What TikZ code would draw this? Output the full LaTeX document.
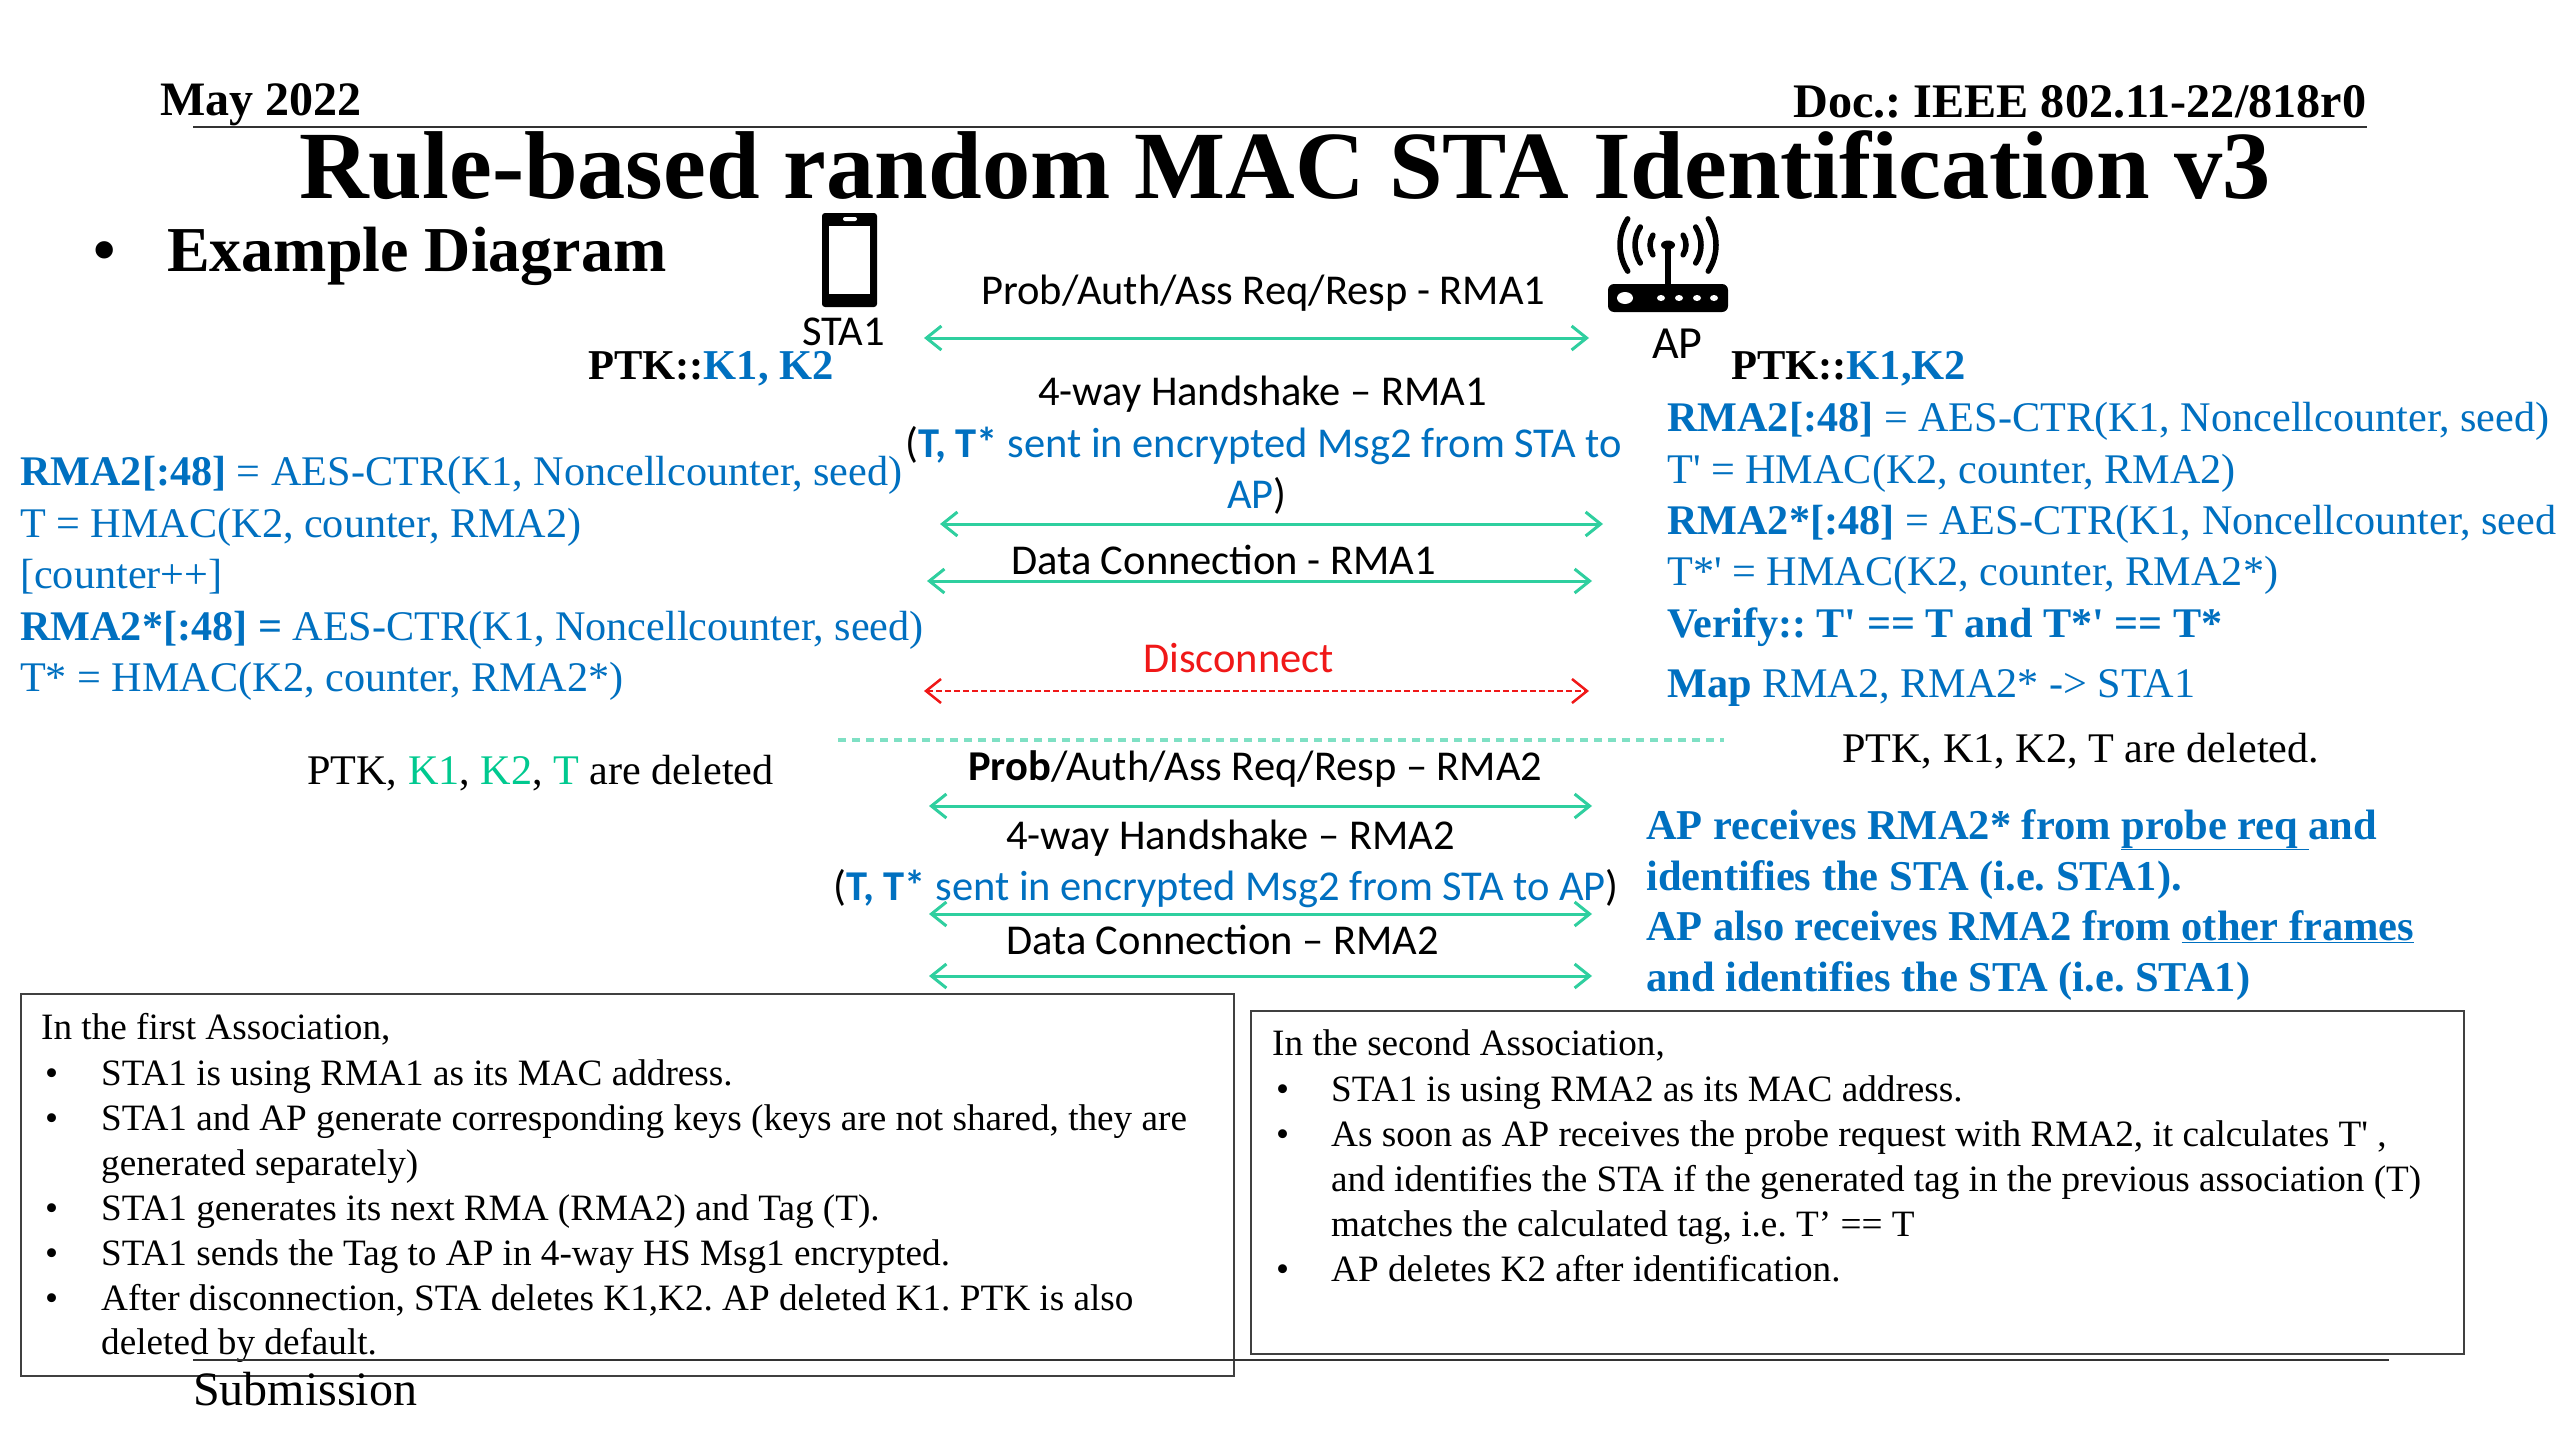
\documentclass[tikz,border=0pt]{standalone}
\usepackage{fontspec}
\setmainfont{Liberation Serif}
\newfontfamily\calb{Carlito}
\newfontfamily\plainser{Liberation Serif}
\usetikzlibrary{arrows.meta}
\definecolor{bl}{HTML}{0070C0}
\definecolor{gn}{HTML}{2FCF9F}
\definecolor{sg}{HTML}{7FE0C4}
\definecolor{tg}{HTML}{00C98F}
\definecolor{rd}{HTML}{F01818}
\newcommand{\fsz}[1]{\fontsize{#1}{#1}\selectfont}
\newcommand{\sq}{{\plainser\char39}}
\tikzset{
 lab/.style={inner sep=0pt,anchor=base west},
 mid/.style={lab,font=\calb\fsz{42.5}},
 ser/.style={lab,font=\fsz{42.2},text=bl},
 serb/.style={ser,font=\fsz{42.5}\bfseries},
 box/.style={lab,font=\fsz{37.2}},
 fr/.style={draw=black!75,line width=2.2pt},
 rule/.style={draw=black!80,line width=2.5pt},
 wave/.style={black,line width=5.5pt,line cap=round},
 msg/.style={draw=gn,line width=3pt,{Straight Barb[length=15pt,width=24pt]}-{Straight Barb[length=15pt,width=24pt]}},
}
\begin{document}
\frenchspacing
\begin{tikzpicture}[x=1pt,y=-1pt]
\useasboundingbox[fill=white] (0,0) rectangle (2560,1440);
% header
\node[lab,font=\fsz{48}\bfseries] (date) at (160,115) {May 2022};
\node[lab,font=\fsz{48.2}\bfseries] (doc) at (1793,117) {Doc.: IEEE 802.11-22/818r0};
\coordinate (r1l) at (193,127); \coordinate (r1r) at (2367,127);
\draw[rule] (r1l) -- (r1r);
\node[lab,font=\fsz{96.4}\bfseries] (title) at (299,198) {Rule-based random MAC STA Identification v3};
\node[lab,font=\fsz{64}\bfseries] (b0) at (93,271) {•};
\node[lab,font=\fsz{64}\bfseries] (ex) at (167,271) {Example Diagram};
% phone
\fill[black,rounded corners=3pt] (822,213) rectangle (877,307);
\fill[white] (829,226) rectangle (870,294);
\fill[white,rounded corners=2pt] (843,217) rectangle (857,221);
\node[mid] (sta) at (802,345) {STA1};
% router
\fill[black,rounded corners=6pt] (1608,284) rectangle (1728,312);
\fill[black] (1665,246) rectangle (1671,285);
\fill[black] (1668,245) ellipse (7 and 4.5);
\fill[white] (1625,298) ellipse (8 and 6);
\foreach \px in {1661,1679,1697,1714} \fill[white] (\px,298) ellipse (4 and 3);
\foreach \r in {18,33,48} {
 \draw[wave] (1668,245) ++(33:\r) arc[start angle=33,end angle=-33,radius=\r];
 \draw[wave] (1668,245) ++(147:\r) arc[start angle=147,end angle=213,radius=\r];
}
\node[mid,font=\calb\fsz{46}] (ap) at (1652,358) {AP};
% left keys
\node[serb,text=black] (lptk) at (588,379) {PTK::\textcolor{bl}{K1, K2}};
\node[ser] (l1) at (20,485) {\textbf{RMA2[:48]} = AES-CTR(K1, Noncellcounter, seed)};
\node[ser] (l2) at (20,537) {T = HMAC(K2, counter, RMA2)};
\node[ser] (l3) at (20,588) {[counter++]};
\node[ser] (l4) at (20,640) {\textbf{RMA2*[:48] =} AES-CTR(K1, Noncellcounter, seed)};
\node[ser] (l5) at (20,691) {T* = HMAC(K2, counter, RMA2*)};
\node[ser,text=black] (l6) at (307,784) {PTK, \textcolor{tg}{K1}, \textcolor{tg}{K2}, \textcolor{tg}{T} are deleted};
% right keys
\node[serb,text=black] (rptk) at (1731,379) {PTK::\textcolor{bl}{K1,K2}};
\node[ser] (r1) at (1667,431) {\textbf{RMA2[:48]} = AES-CTR(K1, Noncellcounter, seed)};
\node[ser] (r2) at (1667,483) {T\sq{} = HMAC(K2, counter, RMA2)};
\node[ser] (r3) at (1667,534) {\textbf{RMA2*[:48]} = AES-CTR(K1, Noncellcounter, seed};
\node[ser] (r4) at (1667,585) {T*\sq{} = HMAC(K2, counter, RMA2*)};
\node[ser] (r5) at (1667,637) {\textbf{Verify:: T\sq{} == T and T*\sq{} == T*}};
\node[ser] (r6) at (1667,697) {\textbf{Map} RMA2, RMA2* -> STA1};
\node[ser,text=black] (r7) at (1842,762) {PTK, K1, K2, T are deleted.};
\node[serb] (r8) at (1646,839) {AP receives RMA2* from \underline{probe req\ }and};
\node[serb] (r9) at (1646,890) {identifies the STA (i.e. STA1).};
\node[serb] (r10) at (1646,940) {AP also receives RMA2 from \underline{other frames}};
\node[serb] (r11) at (1646,991) {and identifies the STA (i.e. STA1)};
% sequence
\node[mid] (m1) at (981,304) {Prob/Auth/Ass Req/Resp - RMA1};
\coordinate (a1l) at (924,338); \coordinate (a1r) at (1589,338);
\draw[msg] (a1l) -- (a1r);
\node[mid] (m2) at (1038,405) {4-way Handshake – RMA1};
\node[mid] (m3) at (905,457) {(\textcolor{bl}{\textbf{T, T*} sent in encrypted Msg2 from STA to}};
\node[mid,anchor=base] (m4) at (1257,508) {\textcolor{bl}{AP})};
\coordinate (a2l) at (940,524); \coordinate (a2r) at (1603,524);
\draw[msg] (a2l) -- (a2r);
\node[mid] (m5) at (1011,574) {Data Connection - RMA1};
\coordinate (a3l) at (927,581); \coordinate (a3r) at (1592,581);
\draw[msg] (a3l) -- (a3r);
\node[mid,text=rd] (m6) at (1143,672) {Disconnect};
\coordinate (a4l) at (924,691); \coordinate (a4r) at (1589,691);
\draw[msg,draw=rd,line width=2.5pt,dash pattern=on 6pt off 3pt] (a4l) -- (a4r);
\coordinate (sepl) at (838,740); \coordinate (sepr) at (1724,740);
\draw[draw=sg,line width=3.5pt,dash pattern=on 8pt off 6pt] (sepl) -- (sepr);
\node[mid] (m7) at (968,780) {\textbf{Prob}/Auth/Ass Req/Resp – RMA2};
\coordinate (a5l) at (929,806); \coordinate (a5r) at (1592,806);
\draw[msg] (a5l) -- (a5r);
\node[mid] (m8) at (1006,849) {4-way Handshake – RMA2};
\node[mid] (m9) at (833,900) {(\textcolor{bl}{\textbf{T, T*} sent in encrypted Msg2 from STA to AP})};
\coordinate (a6l) at (929,914); \coordinate (a6r) at (1592,914);
\draw[msg] (a6l) -- (a6r);
\node[mid] (m10) at (1006,954) {Data Connection – RMA2};
\coordinate (a7l) at (929,976); \coordinate (a7r) at (1592,976);
\draw[msg] (a7l) -- (a7r);
% box 1
\draw[fr] (21,994) rectangle (1234,1376);
\node[box] (b1h) at (41,1039) {In the first Association,};
\foreach \n/\y in {1/1085,2/1130,3/1220,4/1265,5/1310} \node[box] (b1b\n) at (45,\y) {•};
\node[box] (b11) at (101,1085) {STA1 is using RMA1 as its MAC address.};
\node[box] (b12) at (101,1130) {STA1 and AP generate corresponding keys (keys are not shared, they are};
\node[box] (b13) at (101,1175) {generated separately)};
\node[box] (b14) at (101,1220) {STA1 generates its next RMA (RMA2) and Tag (T).};
\node[box] (b15) at (101,1265) {STA1 sends the Tag to AP in 4-way HS Msg1 encrypted.};
\node[box] (b16) at (101,1310) {After disconnection, STA deletes K1,K2. AP deleted K1. PTK is also};
\node[box] (b17) at (101,1354) {deleted by default.};
% box 2
\draw[fr] (1251,1011) rectangle (2464,1354);
\node[box] (b2h) at (1272,1055) {In the second Association,};
\foreach \n/\y in {1/1101,2/1146,3/1281} \node[box] (b2b\n) at (1276,\y) {•};
\node[box] (b21) at (1331,1101) {STA1 is using RMA2 as its MAC address.};
\node[box] (b22) at (1331,1146) {As soon as AP receives the probe request with RMA2, it calculates T\sq{} ,};
\node[box] (b23) at (1331,1191) {and identifies the STA if the generated tag in the previous association (T)};
\node[box] (b24) at (1331,1236) {matches the calculated tag, i.e. T’ == T};
\node[box] (b25) at (1331,1281) {AP deletes K2 after identification.};
% footer
\coordinate (r2l) at (193,1360); \coordinate (r2r) at (2389,1360);
\draw[rule] (r2l) -- (r2r);
\node[lab,font=\fsz{48}] (sub) at (193,1405) {Submission};
\end{tikzpicture}
\end{document}
